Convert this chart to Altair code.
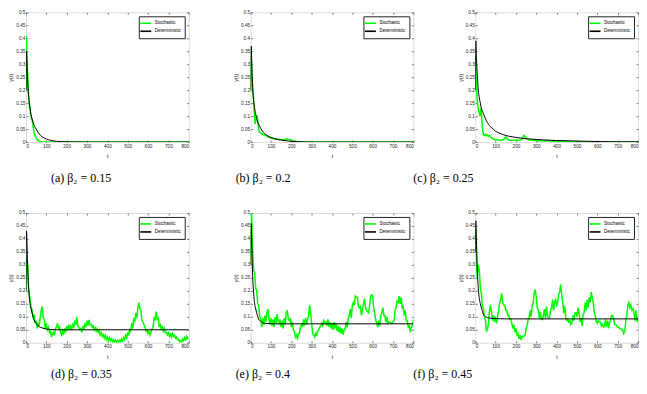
import altair as alt
import pandas as pd

# ---------------- data ----------------
X_TICKS = [0, 100, 200, 300, 400, 500, 600, 700, 800]
Y_TICKS = [0, 0.05, 0.1, 0.15, 0.2, 0.25, 0.3, 0.35, 0.4, 0.45, 0.5]
CAPTIONS = ["(a) β₂ = 0.15", "(b) β₂ = 0.2", "(c) β₂ = 0.25",
            "(d) β₂ = 0.35", "(e) β₂ = 0.4", "(f) β₂ = 0.45"]
SERIES = ["Stochastic", "Deterministic"]

# panel (a)
a_st_t = [0, 1, 2, 4, 6, 8, 10, 12, 15, 18, 20, 22, 25, 28, 30, 33, 36, 40, 45, 50,
          55, 60, 70, 80, 100, 200, 300, 400, 500, 600, 700, 800]
a_st_v = [0.20, 0.33, 0.41, 0.34, 0.30, 0.26, 0.22, 0.19, 0.16, 0.13, 0.14, 0.11, 0.10, 0.085, 0.09, 0.07, 0.055, 0.035, 0.025, 0.016,
          0.01, 0.006, 0.002, 0.001, 0.0, 0.0, 0.0, 0.0, 0.0, 0.0, 0.0, 0.0]
a_de_t = [0, 1, 3, 5, 8, 10, 15, 20, 25, 30, 40, 50, 60, 70, 80, 100, 120, 150, 200, 300, 800]
a_de_v = [0.20, 0.30, 0.35, 0.30, 0.24, 0.21, 0.16, 0.13, 0.105, 0.09, 0.065, 0.05, 0.036, 0.027, 0.02, 0.012, 0.007, 0.003, 0.001, 0.0, 0.0]

# panel (b)
b_st_t = [0, 1, 2, 3, 5, 8, 10, 13, 16, 18, 21, 24, 27, 30, 33, 36, 40, 43, 48, 54,
          60, 71, 80, 96, 110, 129, 145, 162, 170, 178, 186, 195, 211, 228, 250, 300, 800]
b_st_v = [0.20, 0.30, 0.37, 0.33, 0.28, 0.23, 0.21, 0.19, 0.14, 0.11, 0.07, 0.075, 0.09, 0.105, 0.095, 0.07, 0.05, 0.04, 0.035, 0.032,
          0.03, 0.026, 0.022, 0.017, 0.014, 0.012, 0.01, 0.009, 0.011, 0.013, 0.01, 0.009, 0.004, 0.002, 0.001, 0.0, 0.0]
b_de_t = [0, 1, 3, 5, 8, 10, 15, 20, 25, 30, 40, 50, 60, 70, 80, 100, 120, 150, 200, 250, 300, 800]
b_de_v = [0.20, 0.32, 0.37, 0.32, 0.25, 0.21, 0.16, 0.13, 0.105, 0.09, 0.068, 0.052, 0.041, 0.032, 0.026, 0.018, 0.012, 0.008, 0.003, 0.001, 0.0, 0.0]

# panel (c)
c_st_t = [0, 1, 2, 3, 5, 8, 10, 13, 16, 20, 23, 26, 29, 32, 36, 40, 45, 50, 55, 60,
          65, 70, 80, 90, 100, 110, 120, 130, 140, 145, 150, 155, 160, 170, 180, 200, 220, 230, 235, 240,
          245, 250, 260, 270, 290, 310, 340, 360, 370, 400, 450, 500, 600, 800]
c_st_v = [0.20, 0.28, 0.33, 0.30, 0.22, 0.18, 0.16, 0.14, 0.12, 0.11, 0.10, 0.12, 0.13, 0.09, 0.05, 0.03, 0.025, 0.03, 0.025, 0.028,
          0.022, 0.025, 0.016, 0.012, 0.008, 0.01, 0.006, 0.008, 0.01, 0.015, 0.02, 0.014, 0.01, 0.007, 0.006, 0.008, 0.006, 0.012, 0.02, 0.026,
          0.022, 0.015, 0.01, 0.008, 0.006, 0.005, 0.004, 0.007, 0.004, 0.003, 0.002, 0.001, 0.0, 0.0]
c_de_t = [0, 1, 3, 5, 8, 10, 15, 20, 25, 30, 40, 50, 60, 80, 100, 140, 200, 300, 400, 500, 600, 700, 800]
c_de_v = [0.20, 0.32, 0.39, 0.34, 0.29, 0.26, 0.20, 0.17, 0.15, 0.13, 0.11, 0.09, 0.075, 0.055, 0.042, 0.028, 0.018, 0.01, 0.006, 0.004, 0.002, 0.001, 0.001]

# bottom-row sampling grid
bot_t = [0, 2, 4, 6, 8, 10, 12, 15] + list(range(20, 805, 5))

# panel (d)
d_st_v = [0.20, 0.31, 0.33, 0.29, 0.30, 0.26, 0.22, 0.19,
          0.17, 0.14, 0.125, 0.095, 0.11, 0.075, 0.085, 0.055, 0.08, 0.065,
          0.10, 0.125, 0.14, 0.095, 0.09, 0.055, 0.075, 0.05, 0.06, 0.04,
          0.045, 0.022, 0.035, 0.04, 0.028, 0.055, 0.06, 0.075, 0.055, 0.06,
          0.04, 0.03, 0.045, 0.03, 0.055, 0.04, 0.065, 0.048, 0.07, 0.05,
          0.065, 0.055, 0.07, 0.06, 0.085, 0.07, 0.10, 0.065, 0.06, 0.05,
          0.055, 0.04, 0.065, 0.05, 0.075, 0.06, 0.085, 0.065, 0.088, 0.07,
          0.07, 0.06, 0.065, 0.05, 0.058, 0.045, 0.055, 0.04, 0.048, 0.03,
          0.038, 0.025, 0.032, 0.018, 0.028, 0.012, 0.022, 0.01, 0.02, 0.008,
          0.015, 0.004, 0.012, 0.003, 0.01, 0.002, 0.009, 0.002, 0.01, 0.005,
          0.015, 0.007, 0.02, 0.012, 0.028, 0.018, 0.04, 0.028, 0.05, 0.045,
          0.075, 0.055, 0.095, 0.08, 0.115, 0.095, 0.135, 0.155, 0.13, 0.125,
          0.085, 0.08, 0.07, 0.06, 0.045, 0.05, 0.035, 0.045, 0.03, 0.04,
          0.055, 0.06, 0.095, 0.09, 0.12, 0.09, 0.095, 0.065, 0.07, 0.05,
          0.065, 0.045, 0.055, 0.04, 0.04, 0.03, 0.038, 0.025, 0.033, 0.022,
          0.035, 0.025, 0.03, 0.018, 0.022, 0.012, 0.014, 0.004, 0.008, 0.003,
          0.015, 0.008, 0.02, 0.012, 0.025, 0.016, 0.018]
d_de_t = [0, 1, 3, 5, 8, 10, 15, 20, 25, 30, 40, 50, 60, 70, 80, 100, 120, 150, 200, 300, 400, 500, 600, 700, 800]
d_de_v = [0.20, 0.35, 0.43, 0.38, 0.30, 0.26, 0.19, 0.15, 0.13, 0.115, 0.088, 0.074, 0.065, 0.06, 0.057, 0.053, 0.051, 0.05, 0.05, 0.05, 0.05, 0.05, 0.05, 0.05, 0.05]

# panel (e)
e_st_v = [0.30, 0.45, 0.50, 0.47, 0.40, 0.36, 0.32, 0.28,
          0.27, 0.21, 0.20, 0.15, 0.14, 0.10, 0.09, 0.06, 0.095, 0.07,
          0.105, 0.08, 0.115, 0.13, 0.09, 0.07, 0.095, 0.065, 0.09, 0.06,
          0.10, 0.075, 0.11, 0.085, 0.075, 0.09, 0.06, 0.085, 0.055, 0.095,
          0.07, 0.115, 0.125, 0.095, 0.085, 0.095, 0.06, 0.08, 0.05, 0.045,
          0.022, 0.03, 0.018, 0.035, 0.035, 0.06, 0.07, 0.06, 0.09, 0.065,
          0.095, 0.07, 0.09, 0.105, 0.145, 0.115, 0.075, 0.035, 0.03, 0.022,
          0.035, 0.03, 0.045, 0.05, 0.06, 0.065, 0.075, 0.065, 0.085, 0.075,
          0.08, 0.065, 0.09, 0.06, 0.08, 0.055, 0.075, 0.05, 0.08, 0.055,
          0.075, 0.045, 0.065, 0.04, 0.06, 0.035, 0.055, 0.03, 0.05, 0.055,
          0.08, 0.06, 0.095, 0.105, 0.13, 0.095, 0.145, 0.155, 0.145, 0.18,
          0.175, 0.175, 0.14, 0.135, 0.14, 0.105, 0.13, 0.15, 0.17, 0.135,
          0.125, 0.12, 0.115, 0.145, 0.18, 0.185, 0.18, 0.135, 0.115, 0.085,
          0.08, 0.06, 0.085, 0.065, 0.105, 0.115, 0.135, 0.105, 0.105, 0.08,
          0.10, 0.075, 0.08, 0.08, 0.075, 0.075, 0.08, 0.085, 0.125, 0.135,
          0.16, 0.155, 0.18, 0.15, 0.175, 0.135, 0.14, 0.105, 0.125, 0.085,
          0.085, 0.06, 0.065, 0.04, 0.06, 0.065, 0.09]
e_de_t = [0, 1, 3, 5, 8, 10, 15, 20, 25, 30, 40, 50, 60, 70, 80, 100, 120, 150, 200, 300, 400, 500, 600, 700, 800]
e_de_v = [0.30, 0.42, 0.46, 0.40, 0.31, 0.26, 0.19, 0.15, 0.13, 0.115, 0.09, 0.082, 0.077, 0.075, 0.074, 0.0735, 0.073, 0.073, 0.073, 0.073, 0.073, 0.073, 0.073, 0.073, 0.073]

# panel (f)
f_st_v = [0.35, 0.44, 0.40, 0.33, 0.28, 0.25, 0.27, 0.30,
          0.28, 0.21, 0.19, 0.14, 0.135, 0.10, 0.085, 0.045, 0.05, 0.075,
          0.125, 0.145, 0.115, 0.085, 0.105, 0.08, 0.10, 0.075, 0.105, 0.125,
          0.155, 0.165, 0.19, 0.155, 0.145, 0.145, 0.125, 0.125, 0.105, 0.105,
          0.09, 0.09, 0.075, 0.055, 0.07, 0.04, 0.055, 0.03, 0.035, 0.015,
          0.03, 0.01, 0.025, 0.025, 0.025, 0.03, 0.055, 0.065, 0.09, 0.095,
          0.125, 0.10, 0.145, 0.155, 0.195, 0.205, 0.175, 0.135, 0.125, 0.095,
          0.12, 0.09, 0.09, 0.105, 0.13, 0.095, 0.14, 0.105, 0.095, 0.095,
          0.125, 0.135, 0.165, 0.125, 0.155, 0.165, 0.145, 0.155, 0.185, 0.195,
          0.225, 0.185, 0.155, 0.115, 0.14, 0.095, 0.085, 0.09, 0.08, 0.085,
          0.07, 0.075, 0.105, 0.085, 0.115, 0.115, 0.10, 0.135, 0.115, 0.08,
          0.095, 0.065, 0.105, 0.115, 0.155, 0.125, 0.165, 0.135, 0.175, 0.155,
          0.195, 0.175, 0.155, 0.115, 0.105, 0.08, 0.075, 0.085, 0.08, 0.08,
          0.065, 0.07, 0.06, 0.065, 0.09, 0.06, 0.085, 0.055, 0.08, 0.085,
          0.105, 0.105, 0.095, 0.07, 0.07, 0.065, 0.06, 0.06, 0.055, 0.055,
          0.05, 0.05, 0.035, 0.045, 0.085, 0.105, 0.145, 0.155, 0.135, 0.145,
          0.125, 0.13, 0.115, 0.085, 0.125, 0.08, 0.10]
f_de_t = [0, 1, 3, 5, 8, 10, 15, 20, 25, 30, 40, 50, 60, 80, 100, 150, 200, 300, 400, 500, 600, 700, 800]
f_de_v = [0.35, 0.44, 0.47, 0.42, 0.33, 0.28, 0.21, 0.17, 0.15, 0.135, 0.11, 0.10, 0.097, 0.094, 0.093, 0.092, 0.092, 0.092, 0.092, 0.092, 0.092, 0.092, 0.092]

PANELS = [
    (a_st_t, a_st_v, a_de_t, a_de_v),
    (b_st_t, b_st_v, b_de_t, b_de_v),
    (c_st_t, c_st_v, c_de_t, c_de_v),
    (bot_t, d_st_v, d_de_t, d_de_v),
    (bot_t, e_st_v, e_de_t, e_de_v),
    (bot_t, f_st_v, f_de_t, f_de_v),
]

# ---------------- style ----------------
AX = "#262626"
SANS = "Liberation Sans"
SERIF = "Liberation Serif, DejaVu Serif, serif"
CAP_DX = [25, -15, -62, 25, -15, -62]
CAP_OFFSET = [14, 14, 14, 9, 9, 9]

xs = alt.Scale(domain=[0, 800], nice=False, zero=False)
ys = alt.Scale(domain=[0, 0.5], nice=False)
cs = alt.Scale(domain=SERIES, range=["#00ff00", "#000000"])

ax_common = dict(grid=False, domain=False, tickSize=2, offset=-2, tickColor=AX,
                 tickWidth=0.6, labelColor=AX, labelFont=SANS, labelFontSize=4.7,
                 titleFont=SANS, titleFontSize=5.5, titleColor=AX, titleFontWeight="normal")

x_bottom = alt.Axis(values=X_TICKS, format="d", title="t", labelPadding=1, titlePadding=6, **ax_common)
y_left = alt.Axis(values=Y_TICKS, format=".2~f", title="y(t)", labelPadding=1, titlePadding=2, **ax_common)
x_top = alt.Axis(orient="top", values=X_TICKS, labels=False, title=None, grid=False, domain=False,
                 tickSize=2, offset=-2, tickColor=AX, tickWidth=0.6)
y_right = alt.Axis(orient="right", values=Y_TICKS, labels=False, title=None, grid=False, domain=False,
                   tickSize=2, offset=-2, tickColor=AX, tickWidth=0.6)

legend = alt.Legend(orient="top-right", title=None, offset=4, fillColor="white", strokeColor=AX,
                    padding=3, labelFont=SANS, labelFontSize=4.5, labelColor="black",
                    symbolType="M-2,0H2", symbolSize=30, symbolStrokeWidth=1.6,
                    rowPadding=0, labelOffset=5)


def panel(i):
    st_t, st_v, de_t, de_v = PANELS[i]
    df_s = pd.DataFrame({"t": st_t, "v": st_v, "series": SERIES[0]})
    df_d = pd.DataFrame({"t": de_t, "v": de_v, "series": SERIES[1]})
    green = alt.Chart(df_s).mark_line(strokeWidth=1.5, clip=True).encode(
        x=alt.X("t:Q", scale=xs, axis=x_bottom),
        y=alt.Y("v:Q", scale=ys, axis=y_left),
        color=alt.Color("series:N", scale=cs, legend=legend),
    )
    black = alt.Chart(df_d).mark_line(strokeWidth=1.0, interpolate="monotone", clip=True).encode(
        x=alt.X("t:Q", scale=xs, axis=x_top),
        y=alt.Y("v:Q", scale=ys, axis=y_right),
        color=alt.Color("series:N", scale=cs, legend=legend),
    )
    return alt.layer(green, black).resolve_axis(x="independent", y="independent").properties(
        width=163, height=130,
        title=alt.TitleParams(text=CAPTIONS[i], orient="bottom", anchor="start", frame="group",
                              dx=CAP_DX[i], offset=CAP_OFFSET[i], font=SERIF, fontSize=12,
                              fontWeight="normal", color="black"),
    )


chart = alt.concat(*[panel(i) for i in range(6)], columns=3,
                   spacing={"row": 71, "column": 62}, bounds="flush").resolve_scale(
    color="independent").resolve_legend(color="independent").properties(
    padding={"left": 0, "top": 0, "right": 0, "bottom": 0}
).configure_view(stroke=AX, strokeWidth=0.8).configure(background="white")

chart.save("out.html", embed_options={"renderer": "svg", "actions": False})
